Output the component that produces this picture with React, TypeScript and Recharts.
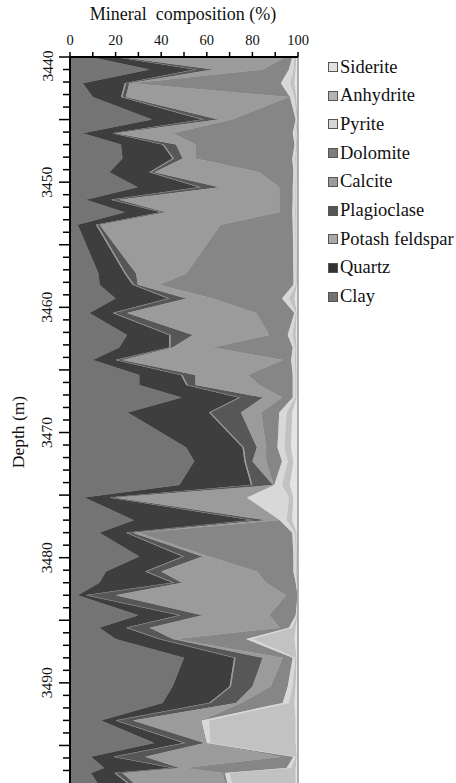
import React from 'react';
import { AreaChart, Area, XAxis, YAxis, ReferenceLine } from 'recharts';

const depths = [3440.0, 3441.0, 3442.1, 3443.2, 3445.0, 3446.1, 3447.0, 3448.1, 3449.2, 3450.4, 3451.4, 3452.4, 3453.4, 3457.3, 3458.2, 3459.3, 3460.45, 3462.2, 3463.2, 3464.2, 3465.4, 3466.2, 3467.2, 3468.4, 3471.2, 3472.3, 3474.2, 3475.2, 3477.0, 3478.0, 3479.9, 3481.1, 3482.0, 3483.0, 3484.6, 3485.6, 3486.5, 3488.0, 3490.3, 3491.6, 3493.0, 3494.8, 3495.9, 3496.8, 3497.2, 3498.0];
const clay = [9, 35, 5.6, 10, 36, 5.6, 22.4, 23, 17.3, 29.7, 7, 24, 3.4, 12.5, 13, 20, 8.5, 25, 21.6, 10, 30.4, 30.4, 49, 25.3, 51, 54.5, 48, 6.3, 28, 12.9, 30.4, 15.8, 12.9, 3.4, 30, 12.9, 20, 50, 45, 40.6, 13.6, 37, 9.2, 15, 9.2, 12];
const quartz = [11, 20, 18.4, 12.4, 22, 13.1, 18.2, 22, 17.5, 27, 11, 16, 8, 11.5, 14.5, 23, 10.2, 18.5, 22, 10, 18.3, 20.6, 25, 35.7, 24.7, 22, 31.4, 11, 52, 11.7, 19, 17.2, 32.1, 3.6, 18, 11.7, 19, 22, 25, 20.4, 6.4, 13, 9.8, 30, 10.3, 13];
const potashFeldspar = [0.6, 0.6, 0.6, 0.6, 0.6, 0.5, 0.5, 0.6, 0.7, 0.7, 0.6, 0.6, 0.6, 0.6, 0.6, 0.6, 0.7, 0.6, 0.5, 0.6, 0.6, 0.6, 0.6, 0.6, 0.6, 0.6, 0.6, 0.7, 0.6, 0.5, 0.6, 0.6, 0.6, 0.6, 0.6, 0.6, 0.6, 0.6, 0.6, 0.6, 0.6, 0.6, 0.6, 0.6, 0.6, 0.6];
const plagioclase = [1.4, 7, 1.4, 1.5, 6.4, 0.8, 5.4, 3.8, 1.5, 8.1, 3, 1.4, 1, 4.4, 1.6, 7.4, 5.6, 9.7, 0.9, 2.4, 5.7, 3.4, 10, 13.4, 5.7, 2.9, 9, 1.5, 5.4, 2.4, 8, 6.4, 3.4, 12.4, 9.4, 9.8, 5.4, 11.9, 9.4, 11.2, 6.9, 8.4, 13.4, 2.4, 2.9, 2.4];
const calcite = [72.7, 21.9, 1, 71.5, 6, 25, 8.5, 5.6, 46, 26.3, 70.2, 49.8, 53, 22, 9.3, 11.6, 56.6, 33.6, 17.6, 70.3, 23, 28, 8.4, 8.8, 4, 6, 0.3, 57.7, 5.5, 2.5, 3, 42, 37, 74.7, 29.4, 57, 1.5, 8.8, 8, 2.2, 30, 0.5, 60, 2, 44, 40];
const dolomite = [2.8, 11.5, 65.5, 0.5, 28, 52.7, 43.5, 42.5, 15, 5.9, 5.9, 5.7, 31.7, 47, 59, 30.4, 16.8, 8.1, 35.1, 3.7, 19.7, 14.7, 4.7, 8, 5, 7, 0.3, 0.3, 0.5, 67.5, 37, 16, 13, 5.1, 11.6, 4, 30.7, 4.4, 7.5, 18.3, 0.2, 0.5, 5, 45, 1, 1];
const pyrite = [1, 2, 4, 1.8, 0.5, 1.1, 0.7, 1.2, 1, 1.1, 1.1, 1.2, 1.1, 1, 1, 3, 0.6, 2, 1.1, 1.5, 1.1, 1.1, 1.1, 3.2, 3, 2.5, 3.4, 18.5, 3, 1.2, 1, 1, 0.5, 0.1, 0.5, 1.5, 2.8, 1.1, 2, 2.7, 3.3, 1.5, 1, 2, 2, 2];
const anhydrite = [0.8, 1, 2, 1, 0.3, 0.6, 0.4, 0.7, 0.5, 0.6, 0.6, 0.7, 0.6, 0.5, 0.5, 2.5, 0.5, 1.5, 0.6, 0.8, 0.6, 0.6, 0.6, 2.5, 3, 2.5, 3.5, 2, 2.5, 0.7, 0.5, 0.5, 0.3, 0.05, 0.3, 1.5, 18.5, 0.6, 1.5, 2.5, 38, 37.5, 0.5, 2, 29, 28];
const siderite = [0.7, 1, 1.5, 0.7, 0.2, 0.6, 0.4, 0.6, 0.5, 0.6, 0.6, 0.6, 0.6, 0.5, 0.5, 1.5, 0.5, 1, 0.6, 0.7, 0.6, 0.6, 0.6, 2.5, 3, 2, 3.5, 2, 2.5, 0.6, 0.5, 0.5, 0.2, 0.05, 0.2, 1, 1.5, 0.6, 1, 1.5, 1, 1, 0.5, 1, 1, 1];

const xTicks = [0, 10, 20, 30, 40, 50, 60, 70, 80, 90, 100];
const xLabels = [0, 20, 40, 60, 80, 100];
const yTicks = Array.from({ length: 58 }, (_, i) => 3440 + i);
const yLabels = [3440, 3450, 3460, 3470, 3480, 3490];

const series = [
  { key: 'clay', name: 'Clay', values: clay, color: '#747474', swatch: '#717171' },
  { key: 'quartz', name: 'Quartz', values: quartz, color: '#3e3e3e', swatch: '#333333' },
  { key: 'kfs', name: 'Potash feldspar', values: potashFeldspar, color: '#9a9a9a', swatch: '#a8a8a8' },
  { key: 'plag', name: 'Plagioclase', values: plagioclase, color: '#575757', swatch: '#555555' },
  { key: 'calcite', name: 'Calcite', values: calcite, color: '#9b9b9b', swatch: '#9c9c9c' },
  { key: 'dolomite', name: 'Dolomite', values: dolomite, color: '#868686', swatch: '#7e7e7e' },
  { key: 'pyrite', name: 'Pyrite', values: pyrite, color: '#d8d8d8', swatch: '#d6d6d6' },
  { key: 'anhydrite', name: 'Anhydrite', values: anhydrite, color: '#c2c2c2', swatch: '#b4b4b4' },
  { key: 'siderite', name: 'Siderite', values: siderite, color: '#e4e4e4', swatch: '#e2e2e2' },
];

const data = depths.map((d, i) => {
  const row: Record<string, number> = { depth: d };
  series.forEach((s) => { row[s.key] = s.values[i]; });
  return row;
});

const FONT = '"Liberation Serif", "Times New Roman", serif';
const PLOT_LEFT = 70;
const PLOT_TOP = 57;

const XTick = (props: any) => {
  const { x, payload } = props;
  const v = payload.value;
  return (
    <g>
      <line x1={x} x2={x} y1={PLOT_TOP - 5} y2={PLOT_TOP} stroke="#000" strokeWidth={1.5} />
      {xLabels.includes(v) && (
        <text x={x} y={45} textAnchor="middle" fontFamily={FONT} fontSize={14.5} fill="#111">{v}</text>
      )}
    </g>
  );
};

const YTick = (props: any) => {
  const { y, payload } = props;
  const v = payload.value;
  const major = v % 5 === 0;
  const len = major ? 11 : 7;
  const ly = v === 3440 ? y + 9 : y;
  return (
    <g>
      <line x1={PLOT_LEFT - len} x2={PLOT_LEFT} y1={y} y2={y} stroke="#000" strokeWidth={1.5} />
      {yLabels.includes(v) && (
        <text x={47} y={ly} transform={`rotate(-90, 47, ${ly})`} textAnchor="middle" dominantBaseline="central" fontFamily={FONT} fontSize={15.5} fill="#111">{v}</text>
      )}
    </g>
  );
};

const legendItems = [...series].reverse();

export default function App() {
  return (
    <div style={{ position: 'absolute', left: 0, top: 0, width: 456, height: 783, background: '#fff', overflow: 'hidden' }}>
      <AreaChart
        layout="vertical"
        width={456}
        height={783}
        data={data}
        margin={{ top: 27, right: 158, bottom: 0, left: 10 }}
      >
        <XAxis
          type="number"
          orientation="top"
          domain={[0, 100]}
          ticks={xTicks}
          interval={0}
          height={30}
          tick={<XTick />}
          tickLine={false}
          axisLine={{ stroke: '#000', strokeWidth: 2 }}
        />
        <YAxis
          type="number"
          dataKey="depth"
          domain={[3440, 3498]}
          ticks={yTicks}
          interval={0}
          width={60}
          allowDataOverflow
          tick={<YTick />}
          tickLine={false}
          axisLine={{ stroke: '#000', strokeWidth: 2 }}
        />
        {series.map((s) => (
          <Area
            key={s.key}
            dataKey={s.key}
            name={s.name}
            stackId="m"
            type="linear"
            fill={s.color}
            fillOpacity={1}
            stroke={s.color}
            strokeWidth={0.5}
            isAnimationActive={false}
            dot={false}
            activeDot={false}
          />
        ))}
        <ReferenceLine x={100} stroke="#9a9a9a" strokeWidth={1.5} />
      </AreaChart>
      <div style={{ position: 'absolute', left: 85, top: 4, width: 196, whiteSpace: 'pre', textAlign: 'center', fontFamily: FONT, fontSize: 18, color: '#111' }}>{'Mineral  composition (%)'}</div>
      <div style={{ position: 'absolute', left: 18, top: 432, fontFamily: FONT, fontSize: 17.5, color: '#111', transform: 'translate(-50%, -50%) rotate(-90deg)', whiteSpace: 'nowrap' }}>Depth (m)</div>
      {legendItems.map((s, i) => (
        <div key={s.key} style={{ position: 'absolute', left: 328, top: 67 + i * 28.7 - 11, height: 22, display: 'flex', alignItems: 'center', fontFamily: FONT, fontSize: 18.5, color: '#111', whiteSpace: 'nowrap' }}>
          <span style={{ display: 'inline-block', width: 8, height: 8, background: s.swatch, border: '1px solid #555', marginRight: 2 }} />
          <span>{s.name}</span>
        </div>
      ))}
    </div>
  );
}
